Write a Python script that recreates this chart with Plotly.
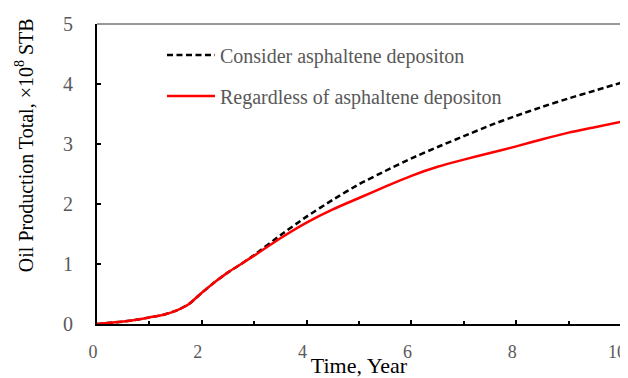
import plotly.graph_objects as go

time_years = [0, 0.25, 0.5, 0.75, 1.0, 1.25, 1.5, 1.75, 2.0, 2.25, 2.5, 2.75, 3.0, 3.5,
              4.0, 4.5, 5.0, 5.5, 6.0, 6.5, 7.0, 7.5, 8.0, 8.5, 9.0, 9.5, 10.0]
consider_dep = [0, 0.02, 0.04, 0.07, 0.11, 0.15, 0.22, 0.33, 0.52, 0.70, 0.86, 1.00, 1.15, 1.48,
                1.79, 2.07, 2.33, 2.55, 2.76, 2.95, 3.13, 3.31, 3.47, 3.62, 3.76, 3.89, 4.02]
regardless_dep = [0, 0.02, 0.04, 0.07, 0.11, 0.15, 0.22, 0.33, 0.52, 0.70, 0.86, 1.00, 1.14, 1.43,
                  1.69, 1.91, 2.10, 2.29, 2.47, 2.62, 2.74, 2.85, 2.96, 3.08, 3.19, 3.28, 3.37]

x_ticks = [0, 2, 4, 6, 8, 10]
y_ticks = [0, 1, 2, 3, 4, 5]

FONT = "Liberation Serif, Times New Roman, serif"
GRAY = "#595959"

fig = go.Figure()
fig.add_trace(go.Scatter(x=time_years, y=consider_dep, mode="lines",
                         name="Consider asphaltene depositon", legendgroup="a",
                         line=dict(color="black", width=2.5, dash="6px,3.5px",
                                   shape="spline", smoothing=0.6)))
fig.add_trace(go.Scatter(x=time_years, y=regardless_dep, mode="lines",
                         name="Regardless of asphaltene depositon", legendgroup="b",
                         line=dict(color="#ff0000", width=2.5, shape="spline", smoothing=0.6)))

# page body has an 8px default margin, so the figure is 8px smaller than the window
fig.update_layout(
    width=620, height=370,
    margin=dict(l=89, r=7, t=16, b=54),
    paper_bgcolor="white", plot_bgcolor="white",
    font=dict(family=FONT, color=GRAY, size=19),
    showlegend=True,
    legend=dict(x=0.124, y=0.962, xanchor="left", yanchor="top",
                font=dict(family=FONT, size=20, color=GRAY),
                bgcolor="rgba(0,0,0,0)", tracegroupgap=12, itemwidth=48),
    xaxis=dict(range=x_ticks[0:1] + x_ticks[-1:], tickvals=x_ticks, ticks="inside",
               ticklen=4, tickwidth=1.5, tickcolor="black",
               showline=True, linecolor="black", linewidth=2, mirror=False,
               showgrid=False, zeroline=False, ticklabelstandoff=10, ticklabelshift=-4,
               ticklabeloverflow="allow", automargin=False,
               tickfont=dict(family=FONT, size=18, color=GRAY),
               minor=dict(dtick=1, ticks="inside", ticklen=3, tickwidth=1.5, tickcolor="black"),
               title=dict(text="Time, Year", font=dict(family=FONT, size=22, color="black"),
                          standoff=0)),
    yaxis=dict(range=y_ticks[0:1] + y_ticks[-1:], tickvals=y_ticks, ticks="inside",
               ticklen=4, tickwidth=1.5, tickcolor="black",
               showline=True, linecolor="black", linewidth=2,
               showgrid=False, zeroline=False, ticklabelstandoff=18,
               ticklabeloverflow="allow", automargin=False,
               tickfont=dict(family=FONT, size=20, color=GRAY)),
    annotations=[dict(text="Oil Production Total, ×10<sup>8</sup> STB", textangle=-90,
                      xref="paper", yref="paper", x=-0.14, y=0.595,
                      xanchor="center", yanchor="middle", showarrow=False,
                      font=dict(family=FONT, size=20, color="black"))],
    shapes=[dict(type="line", xref="paper", yref="paper", x0=0, x1=1, y0=1, y1=1,
                 line=dict(color="#333333", width=1)),
            dict(type="line", xref="paper", yref="paper", x0=1, x1=1, y0=0, y1=1,
                 line=dict(color="#333333", width=1))],
)

fig.write_html("out.html")
